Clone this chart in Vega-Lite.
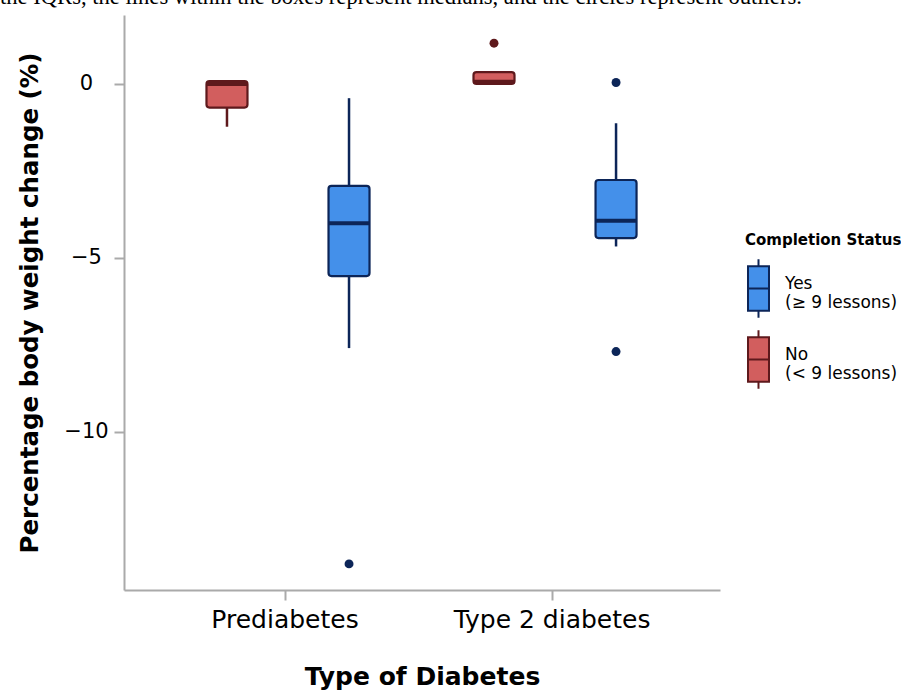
{
  "$schema": "https://vega.github.io/schema/vega-lite/v6.json",
  "width": 596,
  "height": 575,
  "autosize": {"type": "none"},
  "padding": {"left": 124, "top": 15, "right": 181, "bottom": 102},
  "background": "white",
  "config": {"view": {"stroke": null}},
  "title": {
    "text": "the IQRs, the lines within the boxes represent medians, and the circles represent outliers.",
    "font": "Liberation Serif",
    "fontSize": 22.6,
    "fontWeight": "normal",
    "color": "black",
    "anchor": "start",
    "frame": "group",
    "baseline": "alphabetic",
    "dx": -124,
    "offset": -12
  },
  "datasets": {
    "boxes": [
      {"type": "Prediabetes", "status": "No", "lo": -1.23, "q1": -0.68, "med": 0.0, "q3": 0.08, "hi": 0.08},
      {"type": "Prediabetes", "status": "Yes", "lo": -7.59, "q1": -5.52, "med": -4.0, "q3": -2.93, "hi": -0.41},
      {"type": "Type 2 diabetes", "status": "No", "lo": 0.0, "q1": 0.0, "med": 0.06, "q3": 0.34, "hi": 0.34},
      {"type": "Type 2 diabetes", "status": "Yes", "lo": -4.67, "q1": -4.43, "med": -3.93, "q3": -2.76, "hi": -1.13}
    ],
    "outliers": [
      {"type": "Prediabetes", "status": "Yes", "value": -13.79},
      {"type": "Type 2 diabetes", "status": "No", "value": 1.17},
      {"type": "Type 2 diabetes", "status": "Yes", "value": 0.04},
      {"type": "Type 2 diabetes", "status": "Yes", "value": -7.69}
    ]
  },
  "encoding": {
    "x": {
      "field": "type",
      "type": "nominal",
      "scale": {"domain": ["Prediabetes", "Type 2 diabetes"], "paddingInner": 0, "paddingOuter": 0.116, "align": 0.444},
      "axis": {
        "title": "Type of Diabetes",
        "titleFont": "DejaVu Sans",
        "titleFontSize": 25,
        "titleFontWeight": "bold",
        "titleColor": "black",
        "titlePadding": 32,
        "labelFont": "DejaVu Sans",
        "labelFontSize": 25,
        "labelLimit": 400,
        "labelColor": "black",
        "labelAngle": 0,
        "labelPadding": 7,
        "domainColor": "#aaaaaa",
        "domainWidth": 2,
        "tickColor": "#aaaaaa",
        "tickWidth": 2,
        "tickSize": 10
      }
    },
    "xOffset": {
      "field": "status",
      "type": "nominal",
      "scale": {"domain": ["No", "Yes"], "paddingInner": 0, "paddingOuter": 0.094, "align": 0.63}
    }
  },
  "layer": [
    {
      "data": {"name": "boxes"},
      "mark": {"type": "rule", "strokeWidth": 2.5},
      "encoding": {
        "y": {
          "field": "lo",
          "type": "quantitative",
          "scale": {"domain": [-14.54, 1.98], "nice": false, "zero": false},
          "axis": {
            "title": "Percentage body weight change (%)",
            "titleFont": "DejaVu Sans",
            "titleFontSize": 24.5,
            "titleFontWeight": "bold",
            "titleColor": "black",
            "titlePadding": 21,
            "titleLimit": 700,
            "values": [0, -5, -10],
            "labelFont": "DejaVu Sans",
            "labelFontSize": 21,
            "labelColor": "black",
            "labelAlign": "center",
            "labelPadding": 28,
            "domainColor": "#aaaaaa",
            "domainWidth": 2,
            "tickColor": "#aaaaaa",
            "tickWidth": 2,
            "tickSize": 10,
            "grid": false
          }
        },
        "y2": {"field": "hi"},
        "color": {"field": "status", "type": "nominal", "scale": {"domain": ["No", "Yes"], "range": ["#5e191c", "#0c2558"]}, "legend": null}
      }
    },
    {
      "data": {"name": "boxes"},
      "mark": {"type": "bar", "width": 41, "strokeWidth": 2.2, "cornerRadius": 3, "opacity": 1},
      "encoding": {
        "y": {"field": "q1", "type": "quantitative"},
        "y2": {"field": "q3"},
        "fill": {
          "field": "status",
          "type": "nominal",
          "scale": {"domain": ["Yes", "No"], "range": ["#4490ea", "#d25e5e"]},
          "legend": {
            "title": "Completion Status",
            "orient": "none",
            "legendX": 621,
            "legendY": 218,
            "titleFont": "DejaVu Sans",
            "titleFontSize": 15,
            "titleFontWeight": "bold",
            "titleColor": "black",
            "titlePadding": 10,
            "labelFont": "DejaVu Sans",
            "labelFontSize": 17,
            "labelLimit": 300,
            "labelColor": "black",
            "labelBaseline": "alphabetic",
            "labelExpr": "datum.label == 'Yes' ? ['Yes', '(≥ 9 lessons)'] : ['No', '(< 9 lessons)']",
            "symbolType": "M-0.36,-0.76H0.36V0.76H-0.36Z M0,-0.76V-1 M0,0.76V1 M-0.36,0H0.36",
            "symbolSize": 3400,
            "symbolStrokeWidth": 2,
            "symbolOffset": -17,
            "labelOffset": -4,
            "rowPadding": 4
          }
        },
        "stroke": {
          "field": "status",
          "type": "nominal",
          "scale": {"domain": ["Yes", "No"], "range": ["#0c2558", "#5e191c"]},
          "legend": {
            "title": "Completion Status",
            "orient": "none",
            "legendX": 621,
            "legendY": 218,
            "titleFont": "DejaVu Sans",
            "titleFontSize": 15,
            "titleFontWeight": "bold",
            "titleColor": "black",
            "titlePadding": 10,
            "labelFont": "DejaVu Sans",
            "labelFontSize": 17,
            "labelLimit": 300,
            "labelColor": "black",
            "labelBaseline": "alphabetic",
            "labelExpr": "datum.label == 'Yes' ? ['Yes', '(≥ 9 lessons)'] : ['No', '(< 9 lessons)']",
            "symbolType": "M-0.36,-0.76H0.36V0.76H-0.36Z M0,-0.76V-1 M0,0.76V1 M-0.36,0H0.36",
            "symbolSize": 3400,
            "symbolStrokeWidth": 2,
            "symbolOffset": -17,
            "labelOffset": -4,
            "rowPadding": 4
          }
        }
      }
    },
    {
      "data": {"name": "boxes"},
      "mark": {"type": "tick", "size": 41, "thickness": 4, "orient": "horizontal", "opacity": 1},
      "encoding": {
        "y": {"field": "med", "type": "quantitative"},
        "color": {"field": "status", "type": "nominal", "legend": null}
      }
    },
    {
      "data": {"name": "outliers"},
      "mark": {"type": "point", "filled": true, "size": 80, "opacity": 1},
      "encoding": {
        "y": {"field": "value", "type": "quantitative"},
        "color": {"field": "status", "type": "nominal", "legend": null}
      }
    }
  ]
}
